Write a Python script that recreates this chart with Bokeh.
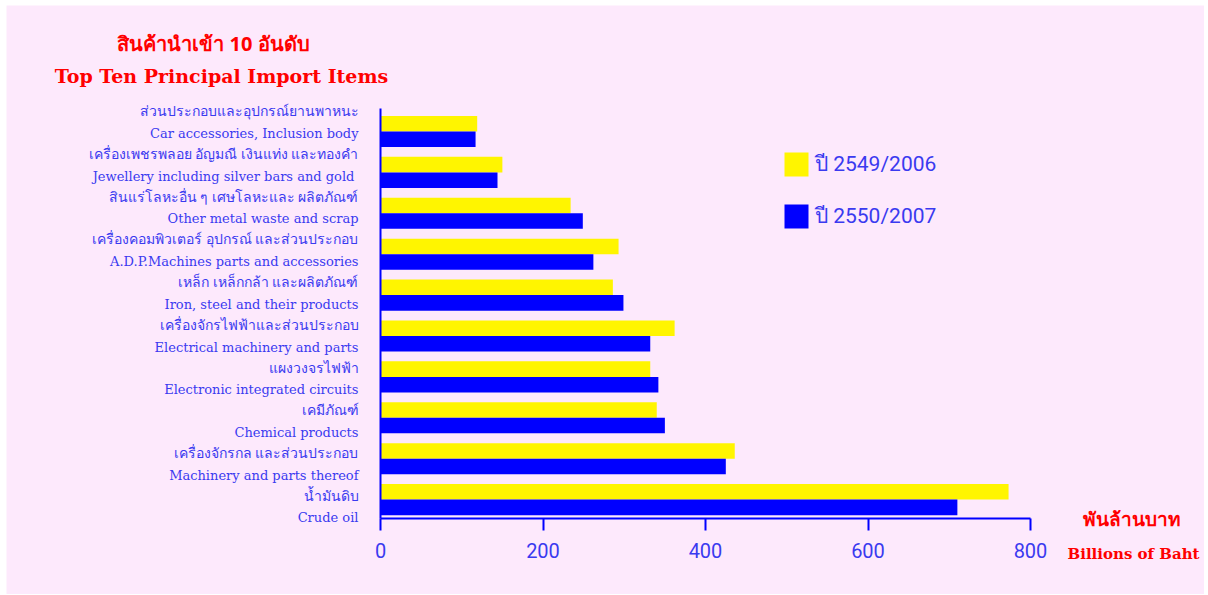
from bokeh.plotting import figure
from bokeh.models import (ColumnDataSource, LabelSet, Label, Range1d, Legend,
                          LegendItem, FixedTicker)
from bokeh.transform import dodge
from bokeh.embed import file_html
from bokeh.resources import INLINE
from bokeh.core.properties import value

# ---------------- data (top to bottom) ----------------
items_th = [
    "ส่วนประกอบและอุปกรณ์ยานพาหนะ",
    "เครื่องเพชรพลอย อัญมณี เงินแท่ง และทองคำ",
    "สินแร่โลหะอื่น ๆ เศษโลหะและ ผลิตภัณฑ์",
    "เครื่องคอมพิวเตอร์ อุปกรณ์ และส่วนประกอบ",
    "เหล็ก เหล็กกล้า และผลิตภัณฑ์",
    "เครื่องจักรไฟฟ้าและส่วนประกอบ",
    "แผงวงจรไฟฟ้า",
    "เคมีภัณฑ์",
    "เครื่องจักรกล และส่วนประกอบ",
    "น้ำมันดิบ",
]
items_en = [
    "Car accessories, Inclusion body",
    "Jewellery including silver bars  and gold",
    "Other metal waste and scrap",
    "A.D.P.Machines parts and accessories",
    "Iron, steel and their products",
    "Electrical machinery and parts",
    "Electronic integrated circuits",
    "Chemical products",
    "Machinery and parts thereof",
    "Crude oil",
]
v2006 = [119, 150, 234, 293, 286, 362, 332, 340, 436, 773]
v2007 = [117, 144, 249, 262, 299, 332, 342, 350, 425, 710]
x_ticks = [0, 200, 400, 600, 800]
series_labels = ["ปี 2549/2006", "ปี 2550/2007"]
title_th = "สินค้านำเข้า 10 อันดับ"
title_en = "Top Ten Principal Import Items"
unit_th = "พันล้านบาท"
unit_en = "Billions of Baht"

# ---------------- styling ----------------
BG = "#fde9fc"
YELLOW = "#fff500"
BLUE = "#0000ff"
TXT_BLUE = "#3a3af0"
RED = "#ff0000"
THAI_FONT = "Noto Sans"
SERIF = "DejaVu Serif"
SANS = "Roboto"

W, H = 1204, 594
FL, FT = 6, 5          # pink panel starts here

# pixel -> data helpers (layout only)
X0_PX, PX_PER_X = 380.0, 650.0 / 800.0
Y_REF_PX, PX_PER_Y = 131.0, 40.9


def dx(px):
    return (px - X0_PX) / PX_PER_X


def dy(px):
    return 10 - (px - Y_REF_PX) / PX_PER_Y


n = len(items_th)
pos = [n - i for i in range(n)]
th_y = [dy(110 + 42.75 * i) for i in range(n)]
en_y = [dy(133 + 42.7 * i) for i in range(n)]

src = ColumnDataSource(dict(pos=pos, v2006=v2006, v2007=v2007,
                            th=items_th, en=items_en, th_y=th_y, en_y=en_y,
                            zero=[0] * n))

p = figure(width=W, height=H, output_backend="svg", toolbar_location=None,
           x_range=Range1d(dx(FL), dx(W)), y_range=Range1d(dy(H), dy(FT)),
           min_border_left=FL, min_border_right=0,
           min_border_top=FT, min_border_bottom=0)
p.background_fill_color = BG
p.border_fill_color = "white"
p.outline_line_color = None
p.xgrid.grid_line_color = None
p.ygrid.grid_line_color = None

bh = 0.38
r1 = p.hbar(y=dodge("pos", bh / 2, range=p.y_range), left=0, right="v2006",
            height=bh, fill_color=YELLOW, line_color=None, source=src)
r2 = p.hbar(y=dodge("pos", -bh / 2, range=p.y_range), left=0, right="v2007",
            height=bh, fill_color=BLUE, line_color=None, source=src)

# x axis
xa = p.xaxis[0]
xa.fixed_location = dy(518)
xa.bounds = (0, 800)
xa.ticker = FixedTicker(ticks=x_ticks)
xa.axis_line_color = BLUE
xa.axis_line_width = 2
xa.major_tick_line_color = BLUE
xa.major_tick_line_width = 2
xa.major_tick_out = 12
xa.major_tick_in = 0
xa.minor_tick_line_color = None
xa.major_label_text_color = TXT_BLUE
xa.major_label_text_font = SANS
xa.major_label_text_font_size = "20px"
xa.major_label_standoff = 12

# y axis (line only)
ya = p.yaxis[0]
ya.fixed_location = 0
ya.bounds = (dy(518), dy(108))
ya.ticker = FixedTicker(ticks=[])
ya.axis_line_color = BLUE
ya.axis_line_width = 2
ya.major_tick_line_color = None
ya.minor_tick_line_color = None
ya.major_label_text_color = None

# category labels
p.add_layout(LabelSet(x="zero", y="th_y", text="th", source=src, x_offset=-22,
                      text_align="right", text_baseline="middle",
                      text_font=value(THAI_FONT), text_font_size="14px",
                      text_color=TXT_BLUE))
p.add_layout(LabelSet(x="zero", y="en_y", text="en", source=src, x_offset=-22,
                      text_align="right", text_baseline="middle",
                      text_font=value(SERIF), text_font_size="13px",
                      text_color=TXT_BLUE))

# legend
legend = Legend(items=[LegendItem(label=series_labels[0], renderers=[r1]),
                       LegendItem(label=series_labels[1], renderers=[r2])],
                location=(775, H - 232), glyph_width=30, glyph_height=30,
                label_height=23, label_standoff=4, spacing=19, padding=0,
                margin=0, border_line_color=None, background_fill_alpha=0,
                label_text_font=SANS, label_text_font_size="21px",
                label_text_color=TXT_BLUE)
p.add_layout(legend)

# titles and units
p.add_layout(Label(x=dx(213), y=dy(43), text=title_th, text_align="center",
                   text_baseline="middle", text_font=THAI_FONT,
                   text_font_style="bold", text_font_size="20px",
                   text_color=RED))
p.add_layout(Label(x=dx(221), y=dy(75), text=title_en, text_align="center",
                   text_baseline="middle", text_font=SERIF,
                   text_font_style="bold", text_font_size="19px",
                   text_color=RED))
p.add_layout(Label(x=dx(1131), y=dy(518), text=unit_th, text_align="center",
                   text_baseline="middle", text_font=THAI_FONT,
                   text_font_style="bold", text_font_size="19px",
                   text_color=RED))
p.add_layout(Label(x=dx(1133), y=dy(553), text=unit_en, text_align="center",
                   text_baseline="middle", text_font=SERIF,
                   text_font_style="bold", text_font_size="15px",
                   text_color=RED))

open("out.html", "w").write(file_html(p, INLINE))
